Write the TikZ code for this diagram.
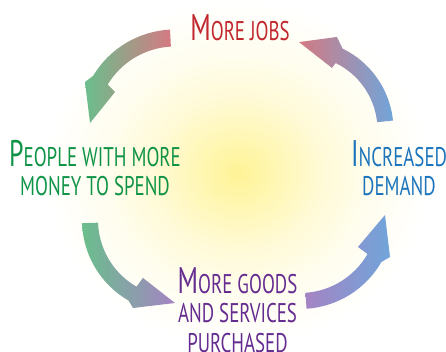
\documentclass[tikz,border=0pt]{standalone}
\usepackage{fontspec}
\setmainfont{PT Sans}[FakeStretch=0.7]
\definecolor{jobred}{HTML}{C1272D}
\definecolor{peoplegreen}{HTML}{0F9447}
\definecolor{demandblue}{HTML}{1C75BC}
\definecolor{goodspurple}{HTML}{662D91}
\definecolor{apink}{RGB}{212,122,130}
\definecolor{agreen}{RGB}{106,190,140}
\definecolor{ablue}{RGB}{112,165,218}
\definecolor{apurple}{RGB}{165,132,196}
\definecolor{glowA}{RGB}{255,243,150}
\definecolor{glowB}{RGB}{255,247,182}
\definecolor{glowC}{RGB}{255,250,214}
\definecolor{glowD}{RGB}{255,253,238}
\pgfdeclareradialshading{glow}{\pgfpoint{0bp}{0bp}}{color(0bp)=(glowA); color(3.5bp)=(glowB); color(7bp)=(glowC); color(11bp)=(glowD); color(16bp)=(white); color(50bp)=(white)}
\newcommand{\Bg}[1]{{\fontsize{37}{37}\selectfont #1}}
\newcommand{\arcarrowpath}[8]{([shift={(#4:#2)}]#1) arc[start angle=#4, end angle=#5, radius=#2] -- ([shift={(#6)}]#1) -- ([shift={(#7)}]#1) -- ([shift={(#8)}]#1) -- ([shift={(#5:#3)}]#1) arc[start angle=#5, end angle=#4, radius=#3] -- cycle}
\begin{document}
\begin{tikzpicture}[x=1pt,y=1pt,
  lbl/.style={inner sep=0pt, font=\fontsize{27}{29.5}\selectfont, align=center},
  grad/.style 2 args={left color=#1, right color=#2}]
\useasboundingbox (0,0) rectangle (446,352);
\fill[white] (0,0) rectangle (446,352);
\begin{scope}
\clip (0,0) rectangle (446,352);
\shade[shading=glow] (238,179) ellipse [x radius=300pt, y radius=270pt];
\end{scope}
\coordinate (c1) at (175,227);
\coordinate (c2) at (303,222);
\coordinate (c3) at (175,132);
\coordinate (c4) at (300,137);
\shade[grad={agreen}{apink}] \arcarrowpath{c1}{95.5pt}{78.5pt}{93}{149}{154.5:99.7pt}{178.7:85pt}{151.2:68.5pt};
\shade[grad={apink}{ablue}] \arcarrowpath{c2}{90.5pt}{74.5pt}{6}{64}{70:99pt}{92.6:88pt}{65:68.5pt};
\shade[grad={agreen}{apurple}] \arcarrowpath{c3}{93pt}{77pt}{182}{240}{244.5:97.5pt}{270:83pt}{241:66.2pt};
\shade[grad={apurple}{ablue}] \arcarrowpath{c4}{94pt}{78pt}{-86}{-30}{-25:99.3pt}{0:85pt}{-28.9:66.2pt};
\node[lbl, text=jobred, anchor=base] (jobs) at (240,311) {\Bg{M}ORE JOBS};
\node[lbl, text=peoplegreen, anchor=north] (people) at (95,212) {\Bg{P}EOPLE WITH MORE\\MONEY TO SPEND};
\node[lbl, text=demandblue, anchor=north] (demand) at (399,212) {\Bg{I}NCREASED\\DEMAND};
\node[lbl, text=goodspurple, anchor=north] (goods) at (237.5,85) {\Bg{M}ORE GOODS\\AND SERVICES\\PURCHASED};
\end{tikzpicture}
\end{document}
